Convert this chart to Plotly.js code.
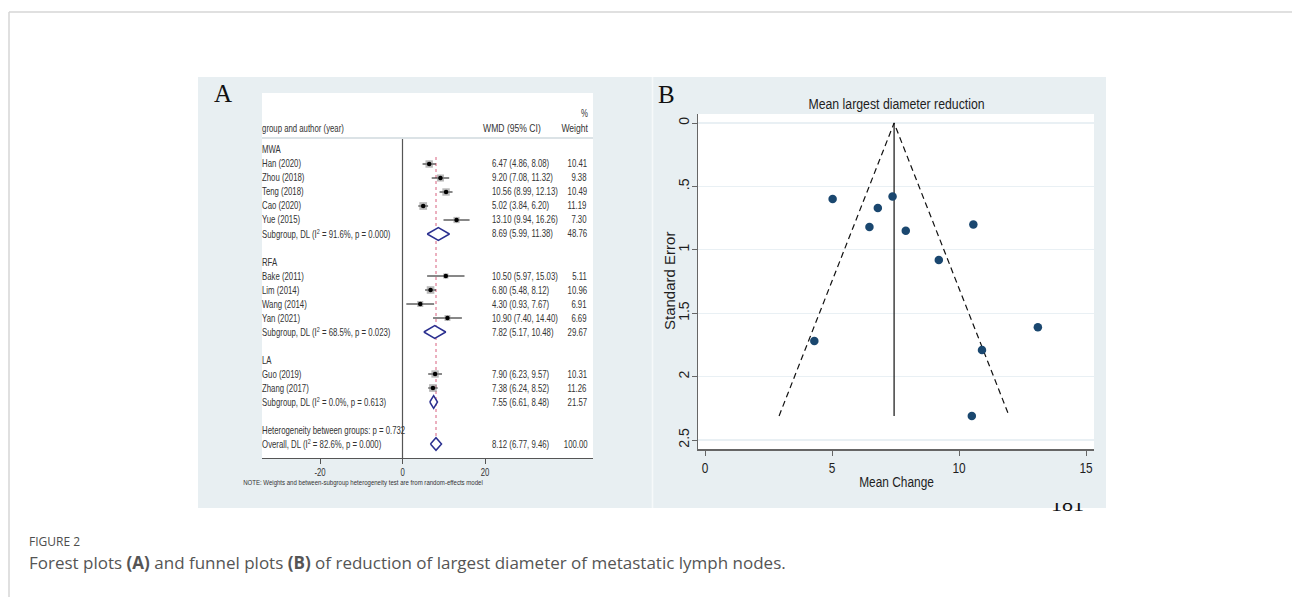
<!DOCTYPE html>
<html>
<head>
<meta charset="utf-8">
<script src="https://cdn.plot.ly/plotly-3.0.1.min.js"></script>
<style>
  html, body { margin: 0; padding: 0; background: #ffffff; }
  #fig { width: 1292px; height: 597px; }
</style>
</head>
<body>
<div id="fig"></div>
<script>
// ---------- Forest plot (A): weighted mean difference by ablation group ----------
const groupNames = ['MWA', 'RFA', 'LA'];
const studyGroup = ['MWA', 'MWA', 'MWA', 'MWA', 'MWA', 'RFA', 'RFA', 'RFA', 'RFA', 'LA', 'LA'];
const studyLabels = ['Han (2020)', 'Zhou (2018)', 'Teng (2018)', 'Cao (2020)', 'Yue (2015)',
                     'Bake (2011)', 'Lim (2014)', 'Wang (2014)', 'Yan (2021)',
                     'Guo (2019)', 'Zhang (2017)'];
const studyWMD    = [6.47, 9.20, 10.56, 5.02, 13.10, 10.50, 6.80, 4.30, 10.90, 7.90, 7.38];
const studyLow    = [4.86, 7.08, 8.99, 3.84, 9.94, 5.97, 5.48, 0.93, 7.40, 6.23, 6.24];
const studyHigh   = [8.08, 11.32, 12.13, 6.20, 16.26, 15.03, 8.12, 7.67, 14.40, 9.57, 8.52];
const studyWeight = [10.41, 9.38, 10.49, 11.19, 7.30, 5.11, 10.96, 6.91, 6.69, 10.31, 11.26];

const subgroupWMD    = [8.69, 7.82, 7.55];
const subgroupLow    = [5.99, 5.17, 6.61];
const subgroupHigh   = [11.38, 10.48, 8.48];
const subgroupWeight = [48.76, 29.67, 21.57];
const subgroupI2     = ['91.6', '68.5', '0.0'];
const subgroupP      = ['0.000', '0.023', '0.613'];

const betweenGroupsP = '0.732';
const overallWMD = 8.12, overallLow = 6.77, overallHigh = 9.46, overallWeight = 100.00;
const overallI2 = '82.6', overallP = '0.000';
const forestTicks = [-20, 0, 20];

// ---------- Funnel plot (B) ----------
const funnelSE = [0.82, 1.08, 0.80, 0.60, 1.61, 2.31, 0.67, 1.72, 1.79, 0.85, 0.58];
const funnelCenter = 7.44;
const funnelMaxSE = 2.31;
const funnelXTicks = [0, 5, 10, 15];
const funnelYTicks = [0, 0.5, 1, 1.5, 2, 2.5];
const funnelYTickText = ['0', '.5', '1', '1.5', '2', '2.5'];

// ---------- page geometry helpers (pixels -> paper) ----------
const W = 1292, H = 597;
const px = x => x / W;
const py = y => 1 - y / H;

const SANS = "'Liberation Sans', Arial, sans-serif";
const SERIF = "'Liberation Serif', 'Times New Roman', serif";
const TXT = '#333333';
const PANEL_BG = '#e8eff2';
const fmt = v => v.toFixed(2);
const FOREST_SQUEEZE = 0.78;   // condensed lettering of the Stata output
const FUNNEL_SQUEEZE = 0.82;

// build row layout of the forest table
const rows = [];
let r = 0;
groupNames.forEach((g, gi) => {
  rows.push({ kind: 'group', label: g, row: r++ });
  studyLabels.forEach((s, i) => { if (studyGroup[i] === g) rows.push({ kind: 'study', i: i, row: r++ }); });
  rows.push({ kind: 'sub', gi: gi, row: r++ });
  r++;
});
const hetRow = r++;
const overallRow = r++;

const traces = [];
const annotations = [];
const squeezeOf = [];          // per annotation: [scale, anchor] or null
const shapes = [];

// study confidence intervals
const ciX = [], ciY = [], ptX = [], ptY = [], boxSize = [];
rows.filter(o => o.kind === 'study').forEach(o => {
  ciX.push(studyLow[o.i], studyHigh[o.i], null);
  ciY.push(o.row, o.row, null);
  ptX.push(studyWMD[o.i]);
  ptY.push(o.row);
  boxSize.push(2.3 * Math.sqrt(studyWeight[o.i]));
});
traces.push({ x: ciX, y: ciY, xaxis: 'x', yaxis: 'y', mode: 'lines', type: 'scatter',
  line: { color: '#111', width: 1 }, hoverinfo: 'skip', showlegend: false });
traces.push({ x: ptX, y: ptY, xaxis: 'x', yaxis: 'y', mode: 'markers', type: 'scatter',
  marker: { symbol: 'square', size: boxSize, color: 'rgba(130,130,130,0.8)', line: { width: 0 } },
  hoverinfo: 'skip', showlegend: false });
traces.push({ x: ptX, y: ptY, xaxis: 'x', yaxis: 'y', mode: 'markers', type: 'scatter',
  marker: { symbol: 'circle', size: 4.5, color: '#000' }, hoverinfo: 'skip', showlegend: false });

// pooled diamonds
const diamond = (est, lo, hi, row) => ({
  x: [lo, est, hi, est, lo], y: [row, row - 0.45, row, row + 0.45, row],
  xaxis: 'x', yaxis: 'y', mode: 'lines', type: 'scatter', fill: 'toself',
  fillcolor: '#ffffff', line: { color: '#2a2f8f', width: 1.5 }, hoverinfo: 'skip', showlegend: false
});
rows.filter(o => o.kind === 'sub').forEach(o => {
  traces.push(diamond(subgroupWMD[o.gi], subgroupLow[o.gi], subgroupHigh[o.gi], o.row));
});
traces.push(diamond(overallWMD, overallLow, overallHigh, overallRow));

// table text
const rowText = (text, xPix, row, anchor) => {
  annotations.push({
    text: text, x: px(xPix), xref: 'paper', y: row, yref: 'y', xanchor: anchor, yanchor: 'middle',
    showarrow: false, borderpad: 0, borderwidth: 0, font: { family: SANS, size: 10, color: TXT }
  });
  squeezeOf.push([FOREST_SQUEEZE, anchor]);
};
rows.forEach(o => {
  if (o.kind === 'group') rowText(o.label, 262, o.row, 'left');
  if (o.kind === 'study') {
    rowText(studyLabels[o.i], 262, o.row, 'left');
    rowText(`${fmt(studyWMD[o.i])} (${fmt(studyLow[o.i])}, ${fmt(studyHigh[o.i])})`, 492, o.row, 'left');
    rowText(fmt(studyWeight[o.i]), 587, o.row, 'right');
  }
  if (o.kind === 'sub') {
    const g = o.gi;
    rowText(`Subgroup, DL (I<sup>2</sup> = ${subgroupI2[g]}%, p = ${subgroupP[g]})`, 262, o.row, 'left');
    rowText(`${fmt(subgroupWMD[g])} (${fmt(subgroupLow[g])}, ${fmt(subgroupHigh[g])})`, 492, o.row, 'left');
    rowText(fmt(subgroupWeight[g]), 587, o.row, 'right');
  }
});
rowText(`Heterogeneity between groups: p = ${betweenGroupsP}`, 262, hetRow, 'left');
rowText(`Overall, DL (I<sup>2</sup> = ${overallI2}%, p = ${overallP})`, 262, overallRow, 'left');
rowText(`${fmt(overallWMD)} (${fmt(overallLow)}, ${fmt(overallHigh)})`, 492, overallRow, 'left');
rowText(fmt(overallWeight), 588, overallRow, 'right');

const paperText = (text, xPix, yPix, anchor, font, squeeze, extra) => {
  annotations.push(Object.assign({
    text: text, x: px(xPix), y: py(yPix), xref: 'paper', yref: 'paper', borderpad: 0, borderwidth: 0,
    xanchor: anchor, yanchor: 'middle', showarrow: false, font: font
  }, extra || {}));
  squeezeOf.push(squeeze ? [squeeze, anchor] : null);
};

const headFont = { family: SANS, size: 10, color: TXT };
paperText('group and author (year)', 262, 128, 'left', headFont, FOREST_SQUEEZE);
paperText('WMD (95% CI)', 483, 128, 'left', headFont, 0.86);
paperText('%', 588, 113, 'right', headFont, FOREST_SQUEEZE);
paperText('Weight', 588, 128, 'right', headFont, 0.86);
paperText('NOTE: Weights and between-subgroup heterogeneity test are from random-effects model',
  243, 483, 'left', { family: SANS, size: 7.4, color: TXT }, 0.82);

// panel letters
paperText('A', 223, 93, 'center', { family: SERIF, size: 25, color: '#111' });
paperText('B', 666, 95, 'center', { family: SERIF, size: 25, color: '#111' });

// funnel titles
paperText('Mean largest diameter reduction', 896, 104, 'center', { family: SANS, size: 15, color: '#1e1e1e' }, FUNNEL_SQUEEZE);
paperText('Mean Change', 896, 482, 'center', { family: SANS, size: 14.5, color: '#1e1e1e' }, FUNNEL_SQUEEZE);
paperText('Standard Error', 669, 281, 'center', { family: SANS, size: 15, color: '#1e1e1e' }, null, { textangle: -90 });

// caption
paperText('FIGURE 2', 29, 541, 'left', { family: "'Open Sans', sans-serif", size: 12, color: '#4d4d4d' });
paperText('Forest plots <b>(A)</b> and funnel plots <b>(B)</b> of reduction of largest diameter of metastatic lymph nodes.',
  29, 562, 'left', { family: "'Open Sans', sans-serif", size: 17, color: '#555555' });

// funnel: study points, pooled estimate and pseudo 95% limits
traces.push({ x: [funnelCenter, funnelCenter], y: [0, funnelMaxSE], xaxis: 'x2', yaxis: 'y2',
  mode: 'lines', type: 'scatter', line: { color: '#111', width: 1.2 }, hoverinfo: 'skip', showlegend: false });
traces.push({ x: [funnelCenter - 1.96 * funnelMaxSE, funnelCenter, funnelCenter + 1.96 * funnelMaxSE],
  y: [funnelMaxSE, 0, funnelMaxSE], xaxis: 'x2', yaxis: 'y2', mode: 'lines', type: 'scatter',
  line: { color: '#111', width: 1.2, dash: '6px,4px' }, hoverinfo: 'skip', showlegend: false });
traces.push({ x: studyWMD, y: funnelSE, xaxis: 'x2', yaxis: 'y2', mode: 'markers', type: 'scatter',
  marker: { color: '#1a476f', size: 8.5 }, hoverinfo: 'skip', showlegend: false });

// page number partly hidden under the figure
traces.push({ x: [0.5], y: [0.8], text: ['181'], xaxis: 'x3', yaxis: 'y3', mode: 'text', type: 'scatter',
  textfont: { family: SERIF, size: 22, color: '#111' }, textposition: 'middle center',
  cliponaxis: true, hoverinfo: 'skip', showlegend: false });

// background panels and frames
const rect = (x0, y0, x1, y1, fill, layer) => shapes.push({ type: 'rect', xref: 'paper', yref: 'paper',
  x0: px(x0), x1: px(x1), y0: py(y1), y1: py(y0), fillcolor: fill, line: { width: 0 }, layer: layer || 'below' });
const seg = (x0, y0, x1, y1, color, width, layer) => shapes.push({ type: 'line', xref: 'paper', yref: 'paper',
  x0: px(x0), x1: px(x1), y0: py(y0), y1: py(y1), line: { color: color, width: width }, layer: layer || 'below' });

seg(9, 12, W, 12, '#d6d6d6', 1.5);
seg(9, 12, 9, H, '#d6d6d6', 1.5);
rect(198, 77, 1106, 508, PANEL_BG);
seg(652.5, 77, 652.5, 508, '#f6f9fa', 1.5);
rect(262, 93, 593, 137, '#ffffff');
rect(262, 139, 593, 458, '#ffffff');
seg(262, 138, 593, 138, '#cfd6da', 1);
rect(698, 114, 1094, 449, '#ffffff');

// reference lines in the forest plot
shapes.push({ type: 'line', xref: 'x', yref: 'paper', x0: 0, x1: 0, y0: py(458), y1: py(139),
  line: { color: '#555', width: 1.2 }, layer: 'below' });
shapes.push({ type: 'line', xref: 'x', yref: 'y', x0: overallWMD, x1: overallWMD, y0: 0.5, y1: overallRow + 0.5,
  line: { color: '#d8607e', width: 1, dash: '3px,3px' }, layer: 'below' });

const layout = {
  width: W, height: H,
  margin: { l: 0, r: 0, t: 0, b: 0 },
  paper_bgcolor: '#ffffff',
  plot_bgcolor: 'rgba(0,0,0,0)',
  showlegend: false,
  hovermode: false,
  xaxis: {
    domain: [px(262), px(593)], range: [-34.06, 46.18], anchor: 'y',
    showline: true, linecolor: '#555', linewidth: 1.2, ticks: 'outside', ticklen: 5, tickcolor: '#555',
    tickvals: forestTicks, ticktext: forestTicks.map(String),
    tickfont: { family: SANS, size: 10, color: TXT },
    showgrid: false, zeroline: false, fixedrange: true
  },
  yaxis: {
    domain: [py(458), py(139)], range: [22.0, -0.786], anchor: 'x', visible: false, fixedrange: true
  },
  xaxis2: {
    domain: [px(698), px(1094)], range: [-0.28, 15.31], anchor: 'y2',
    showline: true, linecolor: '#666', linewidth: 1.5, ticks: 'outside', ticklen: 5, tickcolor: '#666',
    tickvals: funnelXTicks, ticktext: funnelXTicks.map(String),
    tickfont: { family: SANS, size: 14.5, color: '#1e1e1e' },
    showgrid: false, zeroline: false, fixedrange: true
  },
  yaxis2: {
    domain: [py(449), py(114)], range: [2.571, -0.071], anchor: 'x2',
    showline: true, linecolor: '#666', linewidth: 1.5, ticks: 'outside', ticklen: 5, tickcolor: '#666',
    tickvals: funnelYTicks, ticktext: funnelYTickText, tickangle: -90, ticklabelstandoff: -3,
    tickfont: { family: SANS, size: 14, color: '#1e1e1e' },
    showgrid: true, gridcolor: '#e9f0f4', gridwidth: 1.2, zeroline: false, fixedrange: true
  },
  xaxis3: { domain: [px(1040), px(1095)], range: [0, 1], anchor: 'y3', visible: false, fixedrange: true },
  yaxis3: { domain: [py(514), py(503)], range: [0, 1], anchor: 'x3', visible: false, fixedrange: true },
  shapes: shapes,
  annotations: annotations
};

// horizontally condense a text element about its anchor edge
function squeeze(el, s, anchor) {
  const bb = el.getBBox();
  const ax = anchor === 'left' ? bb.x : anchor === 'right' ? bb.x + bb.width : bb.x + bb.width / 2;
  const prev = el.getAttribute('transform') || '';
  el.setAttribute('transform', `${prev} translate(${ax},0) scale(${s},1) translate(${-ax},0)`);
}

Plotly.newPlot('fig', traces, layout, { staticPlot: true, displayModeBar: false }).then(gd => {
  gd.querySelectorAll('g.annotation').forEach(g => {
    const idx = +g.getAttribute('data-index');
    const sq = squeezeOf[idx];
    const t = g.querySelector('text.annotation-text');
    if (sq && t) squeeze(t, sq[0], sq[1]);
  });
  gd.querySelectorAll('g.xtick text').forEach(t => squeeze(t, FOREST_SQUEEZE, 'center'));
  gd.querySelectorAll('g.x2tick text').forEach(t => squeeze(t, FUNNEL_SQUEEZE, 'center'));
});
</script>
</body>
</html>
